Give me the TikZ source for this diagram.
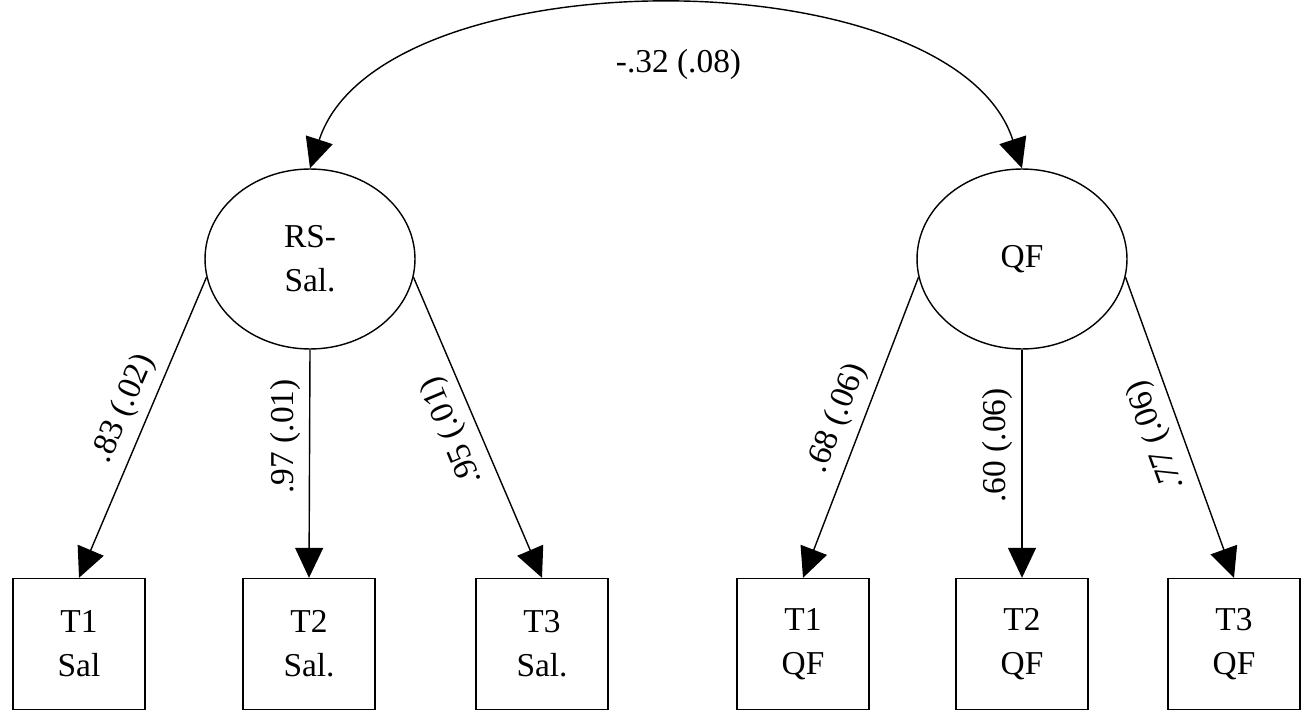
\documentclass[tikz,border=0pt]{standalone}
\usepackage{fontspec}
\setmainfont{Liberation Serif}
\usetikzlibrary{arrows.meta,shapes.geometric}

\begin{document}
\begin{tikzpicture}[
    font=\fontsize{19}{25}\selectfont,
    line width=0.8pt,
    >={Triangle[length=0.6cm,width=0.56cm]},
    latent/.style={draw, ellipse, minimum width=4.2cm, minimum height=3.6cm, inner sep=0pt, align=center},
    obs/.style={draw, rectangle, minimum width=2.64cm, minimum height=2.62cm, inner sep=0pt, align=center},
    lbl/.style={anchor=south, inner sep=5pt}
  ]
    \def\x{0.02}
    \def\y{-0.02}
    \useasboundingbox (0,0) rectangle (1305*\x, 715*\y);
    \node[latent] (F0) at (310*\x, 259*\y) {RS-\\Sal.};
    \node[latent] (F1) at (1022*\x, 259*\y) {QF};
    \node[obs] (I0_0) at (79*\x, 644*\y) {T1\\Sal};
    \node[obs] (I0_1) at (309*\x, 644*\y) {T2\\Sal.};
    \node[obs] (I0_2) at (542*\x, 644*\y) {T3\\Sal.};
    \node[obs] (I1_0) at (803*\x, 644*\y) {T1\\QF};
    \node[obs] (I1_1) at (1022*\x, 644*\y) {T2\\QF};
    \node[obs] (I1_2) at (1234*\x, 644*\y) {T3\\QF};
    \path (F0.north) edge [<->, out=72, in=108, looseness=0.81] node [below=0.7cm, xshift=0.25cm] {-.32 (.08)} (F1.north);
    \path (F0.190) edge [->] node [lbl, pos=0.47, rotate=66.7] {.83 (.02)} (I0_0.north);
    \path (F0.south) edge [->] node [lbl, pos=0.38, rotate=90] {.97 (.01)} (I0_1.north);
    \path (F0.-10) edge [->] node [lbl, pos=0.48, rotate=112.6] {.95 (.01)} (I0_2.north);
    \path (F1.190) edge [->] node [lbl, pos=0.5, rotate=68.7] {.68 (.06)} (I1_0.north);
    \path (F1.south) edge [->] node [lbl, pos=0.42, rotate=90] {.60 (.06)} (I1_1.north);
    \path (F1.-10) edge [->] node [lbl, pos=0.5, rotate=109.8] {.77 (.06)} (I1_2.north);
  \end{tikzpicture}
\end{document}
